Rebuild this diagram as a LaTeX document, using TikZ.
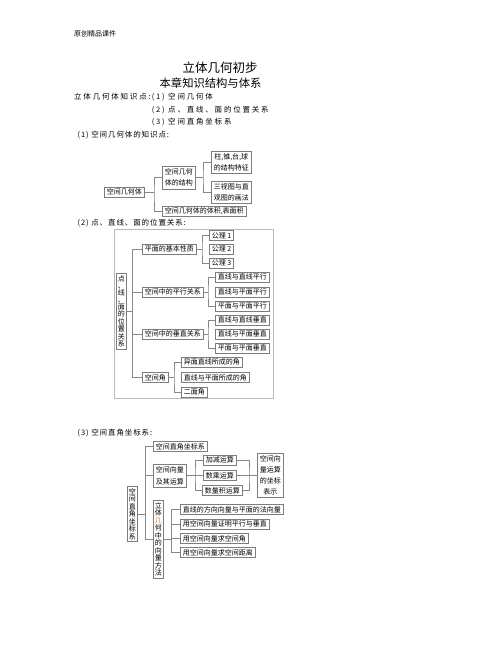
\documentclass[tikz,border=0pt]{standalone}
\usepackage{fontspec}
\setmainfont{Noto Sans CJK SC}
\newfontfamily\listfont[LetterSpace=24]{Noto Sans CJK SC}
\newfontfamily\headfont[LetterSpace=12]{Noto Sans CJK SC}
\definecolor{boxgray}{RGB}{125,125,125}
\definecolor{lngray}{RGB}{135,135,135}
\definecolor{orng}{RGB}{205,125,70}
\begin{document}
\begin{tikzpicture}[x=1pt,y=-1pt,
  bx/.style={draw=boxgray, line width=0.5pt, inner xsep=2.5pt, inner ysep=1.3pt, text height=6pt, text depth=1pt, font=\fontsize{7}{8}\selectfont, anchor=west},
  mbx/.style={draw=boxgray, line width=0.5pt, inner xsep=2.5pt, inner ysep=2.5pt, align=center, font=\fontsize{7}{11}\selectfont, anchor=west},
  vbx/.style={draw=boxgray, line width=0.5pt, inner xsep=1.5pt, inner ysep=2pt, align=center, text width=7pt, font=\fontsize{7}{7.5}\selectfont, anchor=north west},
  ln/.style={draw=lngray, line width=0.5pt},
  txt/.style={inner sep=0pt, anchor=base west},
  lst/.style={txt, font=\listfont\fontsize{7.5}{9}\selectfont},
  hd/.style={txt, font=\headfont\fontsize{7.5}{9}\selectfont},
]
\useasboundingbox[fill=white] (0,0) rectangle (502,649);

% header and titles
\node[txt, font=\fontsize{7}{8}\selectfont] (hdr) at (74,36) {原创精品课件};
\node[inner sep=0pt, font=\fontsize{12.5}{14}\selectfont] (title) at (220,67.7) {立体几何初步};
\node[inner sep=0pt, font=\fontsize{11.3}{13}\selectfont] (sub) at (210.5,82.7) {本章知识结构与体系};
\node[lst] (l0) at (74,99.6) {立体几何体知识点:};
\node[lst] (l1) at (151.7,99.6) {(1) 空间几何体};
\node[lst] (l2) at (151.7,112.2) {(2) 点、直线、面的位置关系};
\node[lst] (l3) at (151.7,124.6) {(3) 空间直角坐标系};
\node[hd] (h1) at (77.5,137.9) {(1) 空间几何体的知识点:};
\node[hd] (h2) at (77.5,225) {(2) 点、直线、面的位置关系:};
\node[hd] (h3) at (77.5,435) {(3) 空间直角坐标系:};

% diagram 1
\node[bx] (a0) at (104,192) {空间几何体};
\node[mbx] (a1) at (162,177.5) {空间几何\\体的结构};
\node[mbx] (a11) at (211,162) {柱,锥,台,球\\的结构特征};
\node[mbx] (a12) at (211,192) {三视图与直\\观图的画法};
\node[bx] (a2) at (162,211) {空间几何体的体积,表面积};
\coordinate (ta) at (154,192);
\coordinate (tb) at (203,177.5);
\draw[ln] (a0.east) -- (ta);
\draw[ln] (a1.west) -| (ta) |- (a2.west);
\draw[ln] (a1.east) -- (tb);
\draw[ln] (a11.west) -| (tb) |- (a12.west);

% diagram 2
\draw[draw=gray!55, line width=0.5pt] (114,229) rectangle (273,398);
\node[vbx] (p0) at (116,273) {点\\[-0.5pt]、\\[-0.5pt]线\\[-0.5pt]、\\[-0.5pt]面\\的\\位\\置\\关\\系};
\node[bx] (b1) at (142,249) {平面的基本性质};
\node[bx] (b11) at (209,235.5) {公理 1};
\node[bx] (b12) at (209,249) {公理 2};
\node[bx] (b13) at (209,263) {公理 3};
\node[bx] (b2) at (142,292) {空间中的平行关系};
\node[bx] (b21) at (215,277) {直线与直线平行};
\node[bx] (b22) at (215,292) {直线与平面平行};
\node[bx] (b23) at (215,306) {平面与平面平行};
\node[bx] (b3) at (142,334) {空间中的垂直关系};
\node[bx] (b31) at (215,320) {直线与直线垂直};
\node[bx] (b32) at (215,334) {直线与平面垂直};
\node[bx] (b33) at (215,348) {平面与平面垂直};
\node[bx] (b4) at (142,377.5) {空间角};
\node[bx] (b41) at (181,362) {异面直线所成的角};
\node[bx] (b42) at (181,377.5) {直线与平面所成的角};
\node[bx] (b43) at (181,392) {二面角};
\path (p0.east) -- ++(6,0) coordinate (t0);
\draw[ln] (p0.east) -- (t0);
\draw[ln] (b1.west) -| (t0) |- (b4.west);
\draw[ln] (b2.west) -- (b2.west -| t0);
\draw[ln] (b3.west) -- (b3.west -| t0);
\coordinate (t1) at (202,249);
\draw[ln] (b1.east) -- (t1);
\draw[ln] (b11.west) -| (t1) |- (b13.west);
\coordinate (t2) at (208,292);
\draw[ln] (b2.east) -- (t2);
\draw[ln] (b21.west) -| (t2) |- (b23.west);
\coordinate (t3) at (208,334);
\draw[ln] (b3.east) -- (t3);
\draw[ln] (b31.west) -| (t3) |- (b33.west);
\coordinate (t4) at (174,377.5);
\draw[ln] (b4.east) -- (t4);
\draw[ln] (b41.west) -| (t4) |- (b43.west);

% diagram 3
\node[vbx] (c0) at (127,486) {空\\间\\直\\角\\坐\\标\\系};
\node[bx] (c1) at (153,446.5) {空间直角坐标系};
\node[mbx, font=\fontsize{7}{12}\selectfont] (c2) at (153,475.5) {空间向量\\及其运算};
\node[bx] (c21) at (203,460) {加减运算};
\node[bx] (c22) at (203,475.5) {数乘运算};
\node[bx] (c23) at (202,490.5) {数量积运算};
\node[mbx] (c4) at (257,475.5) {空间向\\量运算\\的坐标\\表示};
\node[vbx] (c3) at (153,500) {立\\体\\\textcolor{orng}{几}\\何\\中\\的\\向\\量\\方\\法};
\node[bx] (c31) at (180,509.5) {直线的方向向量与平面的法向量};
\node[bx] (c32) at (180,524) {用空间向量证明平行与垂直};
\node[bx] (c33) at (180,538.5) {用空间向量求空间角};
\node[bx] (c34) at (180,552.5) {用空间向量求空间距离};
\path (c0.east) -- ++(8,0) coordinate (s0);
\draw[ln] (c0.east) -- (s0);
\draw[ln] (c1.west) -| (s0) |- (c3.west);
\draw[ln] (c2.west) -- (c2.west -| s0);
\coordinate (s1) at (195,475.5);
\draw[ln] (c2.east) -- (s1);
\draw[ln] (c21.west) -| (s1) |- (c23.west);
\draw[ln] (c22.west) -- (c22.west -| s1);
\coordinate (s2) at (249,475.5);
\draw[ln] (c21.east) -| (s2) |- (c23.east);
\draw[ln] (c22.east) -- (c4.west);
\path (c3.east) -- ++(8,0) coordinate (s3);
\draw[ln] (c3.east) -- (s3);
\draw[ln] (c31.west) -| (s3) |- (c34.west);
\draw[ln] (c32.west) -- (c32.west -| s3);
\draw[ln] (c33.west) -- (c33.west -| s3);
\end{tikzpicture}
\end{document}
